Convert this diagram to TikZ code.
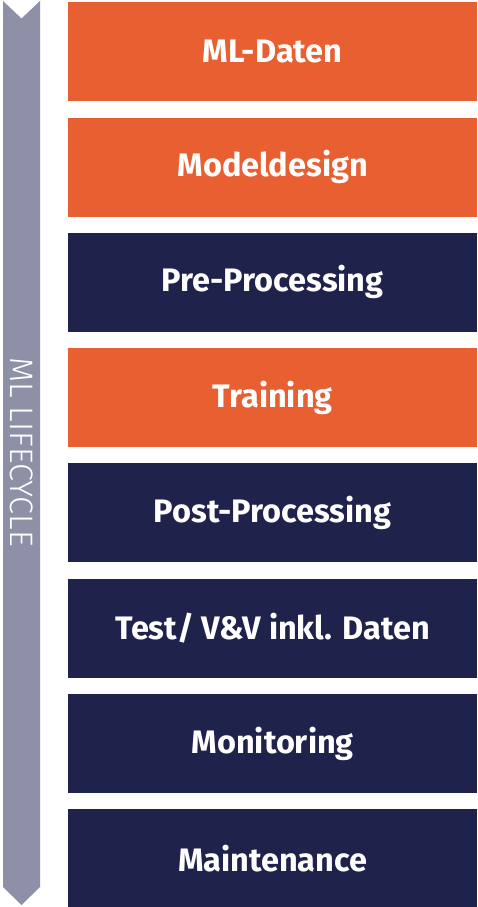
\documentclass[tikz,border=0pt]{standalone}
\usepackage{fontspec}
\setmainfont{Fira Sans}
\newfontfamily\lightfont{Fira Sans Light}
\definecolor{stageorange}{HTML}{E85F32}
\definecolor{stagenavy}{HTML}{1F224B}
\definecolor{cyclegray}{HTML}{8E90A8}
\begin{document}
\begin{tikzpicture}[x=1pt,y=-1pt,
  stagebox/.style={draw=none,minimum width=409pt,minimum height=99pt,
    inner sep=0pt,anchor=north west,text=white,
    font=\fontsize{32.5}{36}\selectfont\bfseries},
  orangestage/.style={stagebox,fill=stageorange},
  navystage/.style={stagebox,fill=stagenavy}]
\useasboundingbox (0,0) rectangle (477,907);
% lifecycle arrow on the left
\fill[cyclegray] (3,1) -- (21.5,18.5) -- (40,1) -- (40,887) -- (21.5,905) -- (3,887) -- cycle;
\node[rotate=-90,text=white,font=\lightfont\fontsize{32.5}{36}\selectfont] (cycle) at (21.5,452) {ML LIFECYCLE};
% stages
\node[orangestage] (s1) at (68,2) {ML-Daten};
\node[orangestage] (s2) at (68,117.3) {Modeldesign};
\node[navystage]   (s3) at (68,232.6) {Pre-Processing};
\node[orangestage] (s4) at (68,347.9) {Training};
\node[navystage]   (s5) at (68,463.2) {Post-Processing};
\node[navystage]   (s6) at (68,578.5) {Test/ V\&V inkl. Daten};
\node[navystage]   (s7) at (68,693.8) {Monitoring};
\node[navystage]   (s8) at (68,809.1) {Maintenance};
\end{tikzpicture}
\end{document}
